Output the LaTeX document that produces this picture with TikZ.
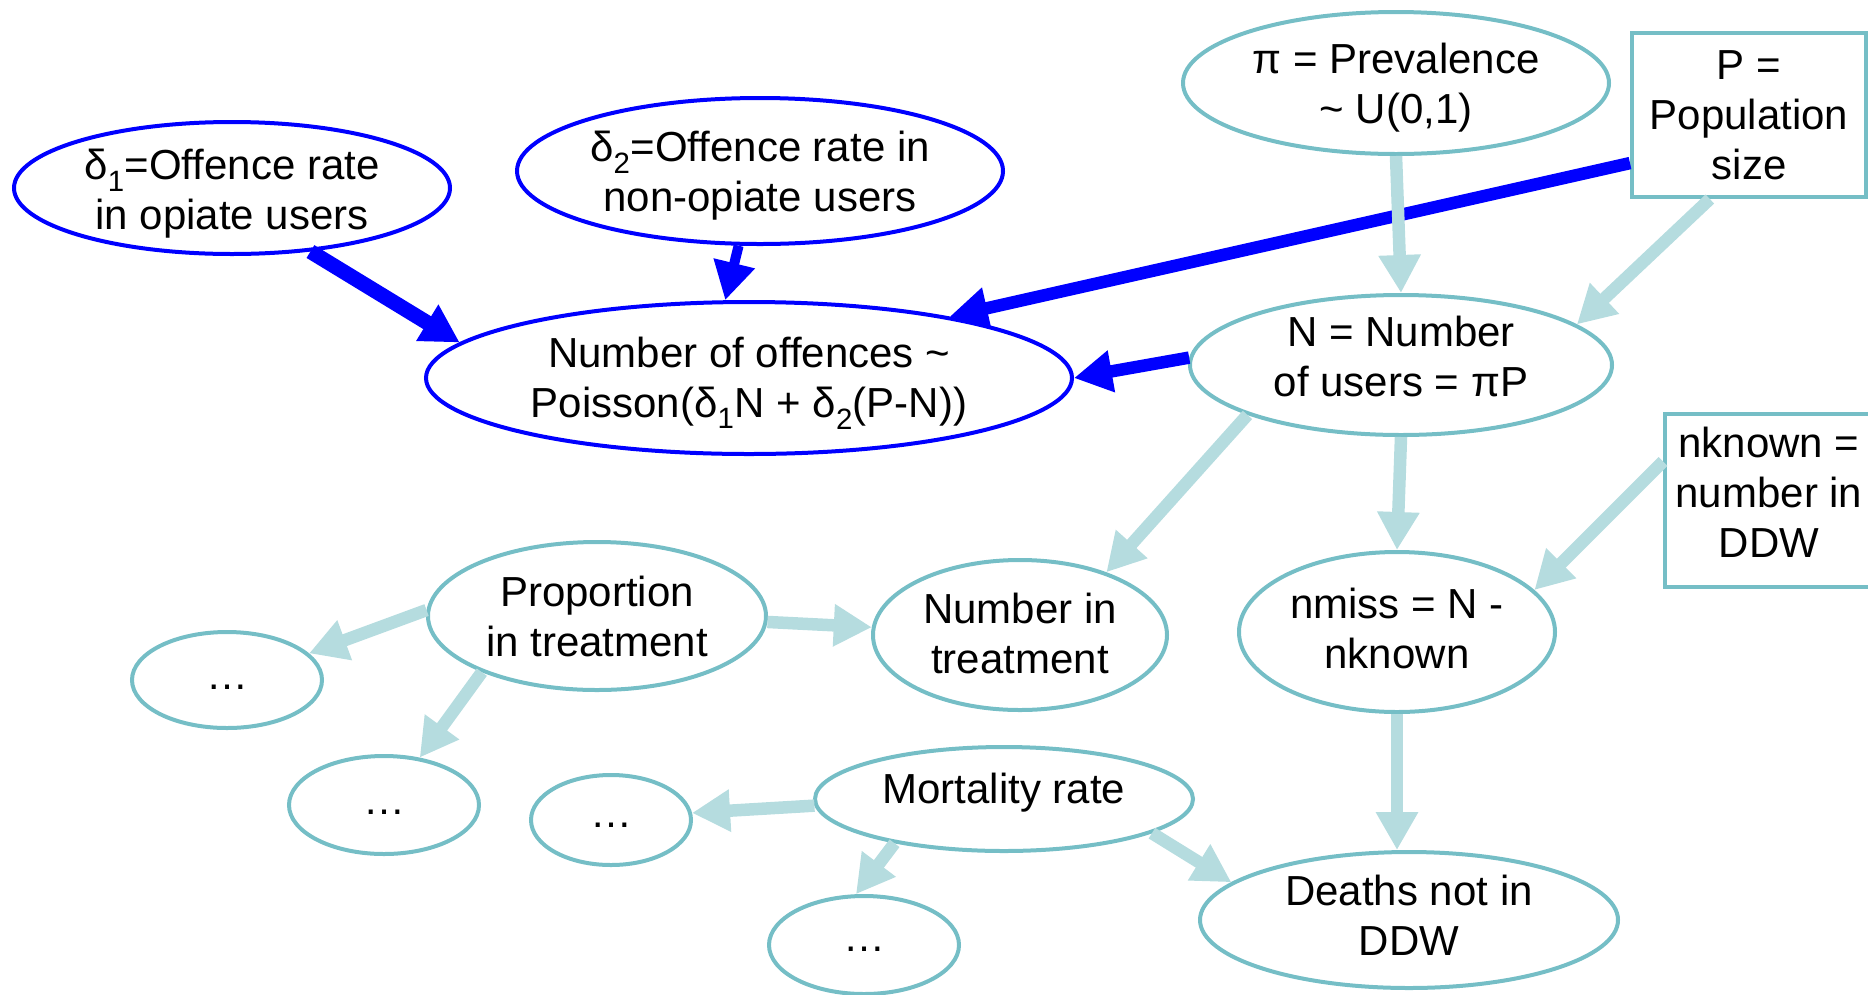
\documentclass[tikz,border=0pt]{standalone}
\usepackage{fontspec}
\setmainfont{Liberation Sans}
\usetikzlibrary{shapes.geometric,arrows.meta}
\definecolor{bluedge}{RGB}{0,0,255}
\definecolor{tealline}{RGB}{117,190,198}
\definecolor{tealarrow}{RGB}{181,220,223}

\tikzset{
  base/.style={inner sep=0pt, align=center, font=\fontsize{42}{50}\selectfont},
  sz/.style 2 args={minimum width=#1pt, minimum height=#2pt},
  bluenode/.style={inner sep=0pt, ellipse, draw=bluedge, line width=4pt},
  tealnode/.style={inner sep=0pt, ellipse, draw=tealline, line width=4pt},
  tealbox/.style={inner sep=0pt, rectangle, draw=tealline, line width=4pt},
  headtip/.style={-{Triangle[length=38pt,width=40pt]}},
  bluearrow/.style={draw=bluedge, line width=12.5pt, headtip},
  tealarrowst/.style={draw=tealarrow, line width=12.5pt, headtip},
}

\begin{document}
\begin{tikzpicture}[x=1pt, y=-1pt]
\useasboundingbox (0,0) rectangle (1868,994);

% offence part of the model
\node[bluenode, sz={436}{132}] (d1) at (232,188) {};
\node[base] (d1t) at ([yshift=-6pt]d1.center) {δ\textsubscript{1}=Offence rate\\in opiate users};
\node[bluenode, sz={486}{146}] (d2) at (760,171) {};
\node[base] (d2t) at ([yshift=-5pt]d2.center) {δ\textsubscript{2}=Offence rate in\\non-opiate users};
\node[bluenode, sz={646}{152}] (off) at (749,378) {};
\node[base] (offt) at ([yshift=-5pt]off.center) {Number of offences \textasciitilde\\Poisson(δ\textsubscript{1}N + δ\textsubscript{2}(P-N))};

% population and prevalence
\node[tealnode, sz={426}{142}] (pi) at (1396,83) {};
\node[base] (pit) at ([yshift=-5pt]pi.center) {π = Prevalence\\\textasciitilde{} U(0,1)};
\node[tealbox, sz={234}{164}] (P) at (1749,115) {};
\node[base] (Pt) at (P.center) {P =\\Population\\size};
\node[tealnode, sz={422}{140}] (N) at (1401,365) {};
\node[base] (Nt) at ([yshift=9pt]N.center) {N = Number\\of users = πP};
\node[tealbox, sz={208}{173}] (nk) at (1769,500) {};
\node[base] (nkt) at ([yshift=8pt]nk.center) {nknown =\\number in\\DDW};
\node[tealnode, sz={316}{160}] (nmiss) at (1397,632) {};
\node[base] (nmisst) at ([yshift=4pt]nmiss.center) {nmiss = N -\\nknown};

% treatment and mortality
\node[tealnode, sz={294}{150}] (nit) at (1020,635) {};
\node[base] (nitt) at ([yshift=2pt]nit.center) {Number in\\treatment};
\node[tealnode, sz={338}{148}] (prop) at (597,616) {};
\node[base] (propt) at (prop.center) {Proportion\\in treatment};
\node[tealnode, sz={190}{96}] (e1) at (227,680) {};
\node[base] (e1t) at ([yshift=-7pt]e1.center) {…};
\node[tealnode, sz={190}{98}] (e2) at (384,805) {};
\node[base] (e2t) at ([yshift=-7pt]e2.center) {…};
\node[tealnode, sz={160}{90}] (e3) at (611,820) {};
\node[base] (e3t) at ([yshift=-5pt]e3.center) {…};
\node[tealnode, sz={378}{104}] (mort) at (1004,799) {};
\node[base] (mortt) at ([yshift=6pt]mort.center) {Mortality rate};
\node[tealnode, sz={190}{98}] (e4) at (864,945) {};
\node[base] (e4t) at ([yshift=-4pt]e4.center) {…};
\node[tealnode, sz={418}{136}] (deaths) at (1409,920) {};
\node[base] (deathst) at ([yshift=5pt]deaths.center) {Deaths not in\\DDW};

% blue connectors into the offence count
\draw[bluearrow, line width=15pt] (d1.-39.6) -- (off.173.6);
\draw[bluearrow, line width=10pt] (d2.254.6) -- (off.107.8);
\draw[bluearrow] (P.202.3) -- (off.17.4);
\draw[bluearrow] (N.178.6) -- (off.0.5);

% light connectors
\draw[tealarrowst] (pi.south) -- (N.north);
\draw[tealarrowst] (P.245.7) -- (N.13);
\draw[tealarrowst] (N.198.1) -- (nit.36.3);
\draw[tealarrowst] (N.south) -- (nmiss.north);
\draw[tealarrowst] (nk.160) -- (nmiss.17);
\draw[tealarrowst] (nmiss.south) -- (nmiss.south |- deaths.north);
\draw[tealarrowst] (prop.-2) -- (nit.177.3);
\draw[tealarrowst] (prop.178) -- (e1.18.9);
\draw[tealarrowst] (prop.206.4) -- (e2.53.8);
\draw[tealarrowst] (mort.182) -- (e3.5.7);
\draw[tealarrowst] (mort.202.2) -- (e4.99.5);
\draw[tealarrowst] (mort.-13.2) -- (deaths.168.9);
\end{tikzpicture}
\end{document}
